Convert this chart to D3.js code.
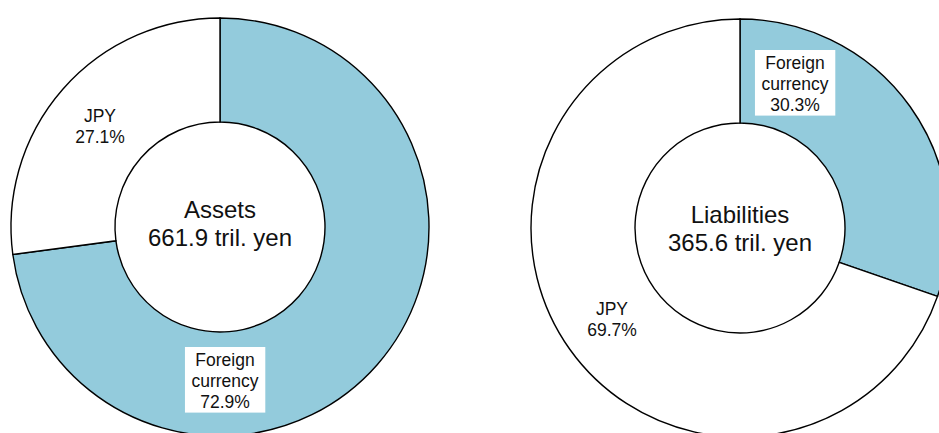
<!DOCTYPE html>
<html>
<head>
<meta charset="utf-8">
<script src="https://cdn.jsdelivr.net/npm/d3@7"></script>
<style>
  html, body { margin: 0; padding: 0; background: #fff; overflow: hidden; }
  svg { display: block; font-family: "Liberation Sans", Arial, sans-serif; }
</style>
</head>
<body>
<svg id="chart" width="939" height="433"></svg>
<script>
// Currency composition of assets and liabilities
const categories = ["Foreign currency", "JPY"];
const panelTitles = ["Assets", "Liabilities"];
const totals = [661.9, 365.6];          // tril. yen
const assetShares = [72.9, 27.1];       // %
const liabilityShares = [30.3, 69.7];   // %

const seriesByPanel = [assetShares, liabilityShares];

// Layout per donut: centre, radii, and where each slice label sits
const layout = [
  { cx: 220, cy: 227, outer: 209, inner: 105, titleY: 218,
    labels: [ { x: 225, y: 366, boxed: true }, { x: 100, y: 122, boxed: false } ] },
  { cx: 740, cy: 228, outer: 209, inner: 105, titleY: 223,
    labels: [ { x: 795, y: 69, boxed: true }, { x: 612, y: 315, boxed: false } ] }
];

const colour = d3.scaleOrdinal().domain(categories).range(["#93cbdc", "#ffffff"]);

const svg = d3.select("#chart");

const pie = d3.pie().sort(null).value(d => d.value);

seriesByPanel.forEach((values, i) => {
  const L = layout[i];
  const g = svg.append("g").attr("transform", `translate(${L.cx},${L.cy})`);
  const arc = d3.arc().innerRadius(L.inner).outerRadius(L.outer);
  const data = pie(categories.map((c, k) => ({ name: c, value: values[k] })));

  g.selectAll("path.slice")
    .data(data)
    .join("path")
    .attr("class", "slice")
    .attr("d", arc)
    .attr("fill", d => colour(d.data.name))
    .attr("stroke", "#000")
    .attr("stroke-width", 1.4)
    .attr("stroke-linejoin", "miter");

  // Centre title
  const title = svg.append("text")
    .attr("x", L.cx)
    .attr("y", L.titleY)
    .attr("text-anchor", "middle")
    .attr("font-size", 24)
    .attr("fill", "#111");
  title.append("tspan").attr("x", L.cx).text(panelTitles[i]);
  title.append("tspan").attr("x", L.cx).attr("dy", 28).text(`${totals[i]} tril. yen`);

  // Slice labels
  data.forEach((d, k) => {
    const pos = L.labels[k];
    const lines = d.data.name === "Foreign currency"
      ? ["Foreign", "currency", `${d.data.value.toFixed(1)}%`]
      : [d.data.name, `${d.data.value.toFixed(1)}%`];
    const lg = svg.append("g");
    const t = lg.append("text")
      .attr("text-anchor", "middle")
      .attr("font-size", 17.5)
      .attr("fill", "#111");
    lines.forEach((ln, j) => {
      t.append("tspan").attr("x", pos.x).attr("y", pos.y + j * 20.8).text(ln);
    });
    if (pos.boxed) {
      const bb = t.node().getBBox();
      lg.insert("rect", "text")
        .attr("x", bb.x - 6.5)
        .attr("y", bb.y - 3)
        .attr("width", bb.width + 13)
        .attr("height", bb.height + 4)
        .attr("fill", "#fff");
    }
  });
});
</script>
</body>
</html>
